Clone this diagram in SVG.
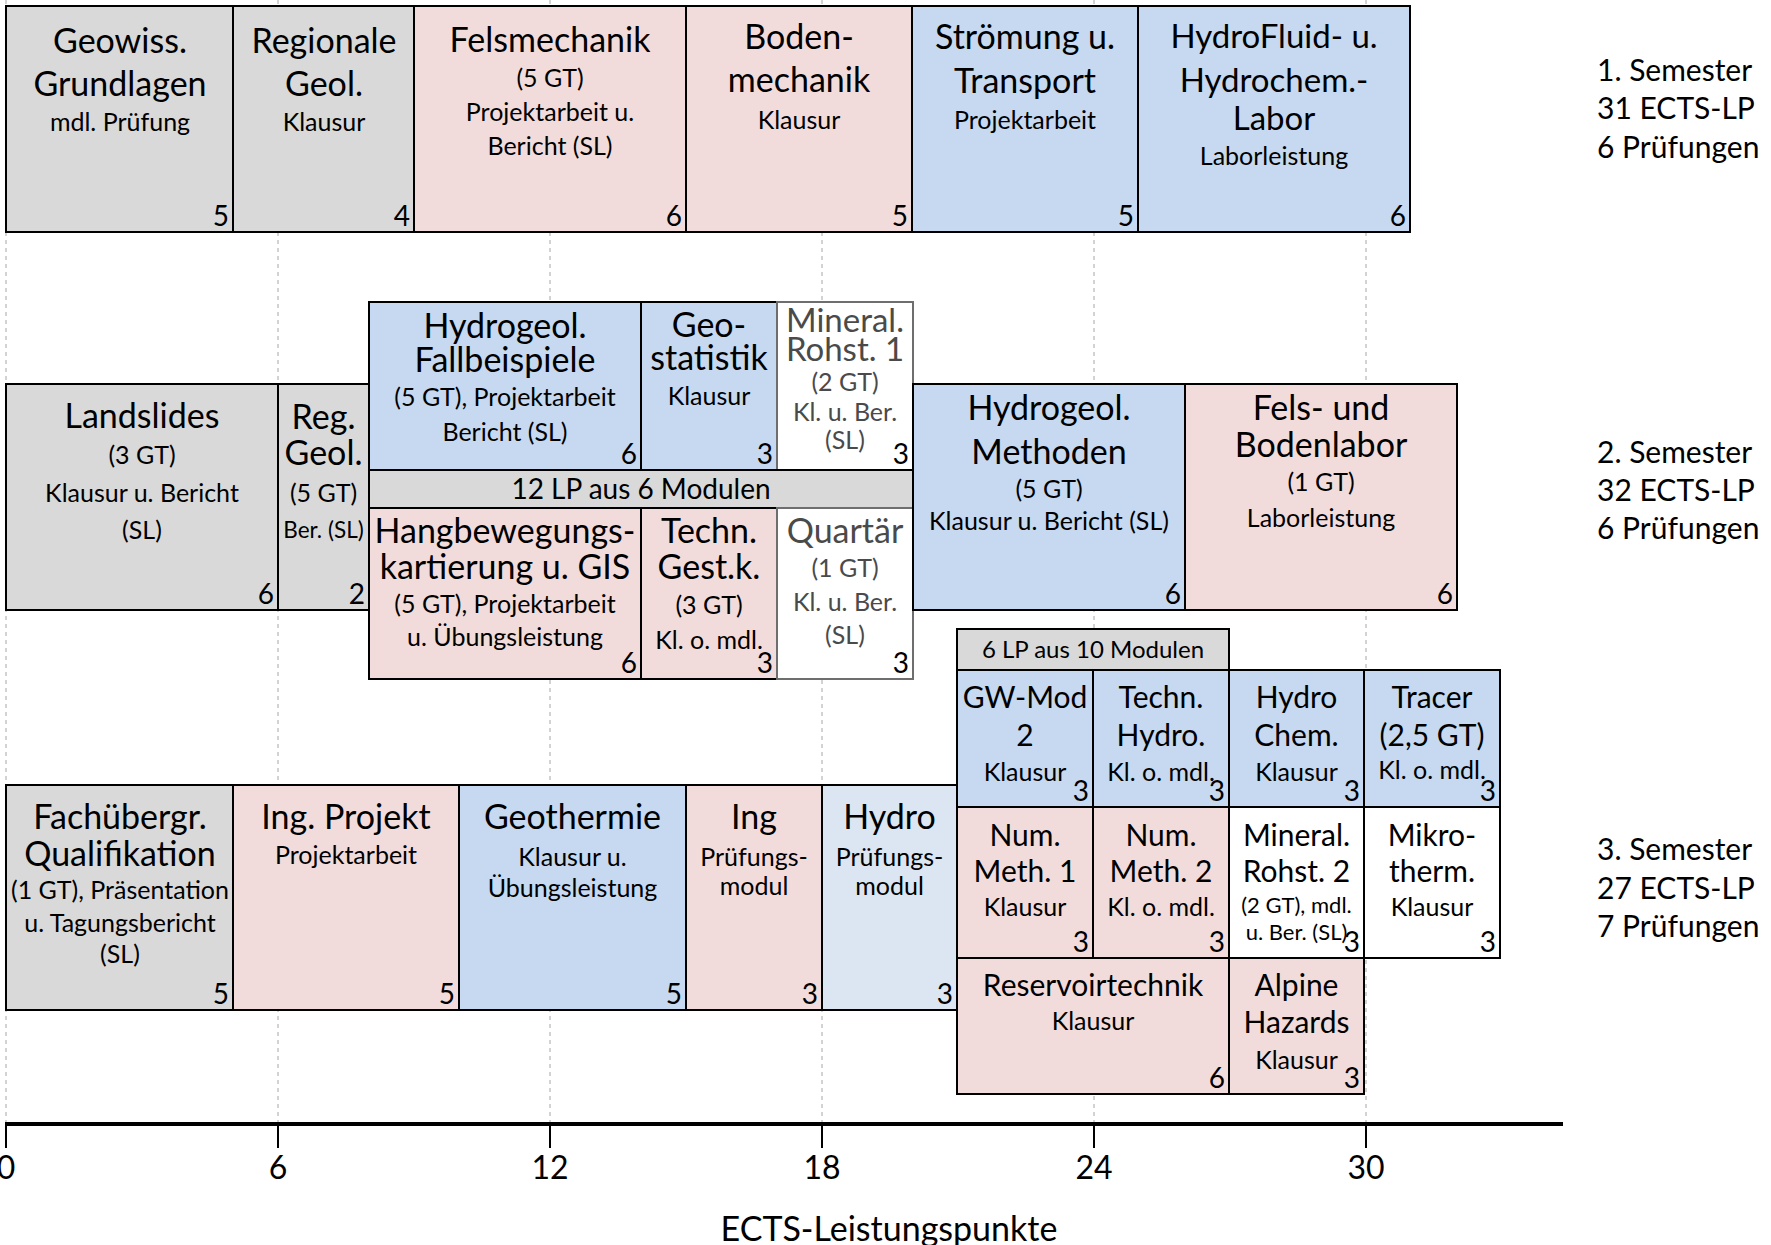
<svg xmlns="http://www.w3.org/2000/svg" width="1771" height="1245" viewBox="0 0 1771 1245">
<style>
text{font-family:Lato,"Liberation Sans",sans-serif;fill:#000}
.t{font-size:34px;text-anchor:middle}
.ts{font-size:30px;text-anchor:middle}
.s{font-size:25px;text-anchor:middle}
.xs{font-size:22px;text-anchor:middle}
.n{font-size:28px;text-anchor:end}
.g{fill:#4a4a4a}
.grey{fill:#d9d9d9;stroke:#000;stroke-width:2}
.pink{fill:#f2dcdb;stroke:#000;stroke-width:2}
.blue{fill:#c6d9f1;stroke:#000;stroke-width:2}
.lblue{fill:#dce6f2;stroke:#000;stroke-width:2}
.white{fill:#fff;stroke:#000;stroke-width:2}
.whiteg{fill:#fff;stroke:#6e6e6e;stroke-width:2}
.grid{stroke:#a6a6a6;stroke-width:1;stroke-dasharray:4 4}
.sem{font-size:30px}
.tick{font-size:32px;text-anchor:middle}
</style>
<rect width="1771" height="1245" fill="#fff"/>
<g id="grid">
<line class="grid" x1="6" y1="0" x2="6" y2="1124"/>
<line class="grid" x1="278" y1="0" x2="278" y2="1124"/>
<line class="grid" x1="550" y1="0" x2="550" y2="1124"/>
<line class="grid" x1="822" y1="0" x2="822" y2="1124"/>
<line class="grid" x1="1094" y1="0" x2="1094" y2="1124"/>
<line class="grid" x1="1366" y1="0" x2="1366" y2="1124"/>
</g>
<!-- Semester 1 -->
<g id="geowiss"><rect class="grey" x="6" y="6" width="227" height="226"/>
<text class="t"><tspan x="120" y="53">Geowiss.</tspan><tspan x="120" y="96">Grundlagen</tspan></text>
<text class="s" x="120" y="130.5">mdl. Prüfung</text><text class="n" x="229" y="226">5</text></g>
<g id="regionale"><rect class="grey" x="233" y="6" width="181" height="226"/>
<text class="t"><tspan x="324" y="53">Regionale</tspan><tspan x="324" y="96">Geol.</tspan></text>
<text class="s" x="324" y="130.5">Klausur</text><text class="n" x="410" y="226">4</text></g>
<g id="felsmechanik"><rect class="pink" x="414" y="6" width="272" height="226"/>
<text class="t" x="550" y="51.5">Felsmechanik</text>
<text class="s"><tspan x="550" y="86.5">(5 GT)</tspan><tspan x="550" y="120.5">Projektarbeit u.</tspan><tspan x="550" y="154.5">Bericht (SL)</tspan></text>
<text class="n" x="682" y="226">6</text></g>
<g id="bodenmechanik"><rect class="pink" x="686" y="6" width="226" height="226"/>
<text class="t"><tspan x="799" y="49">Boden-</tspan><tspan x="799" y="92">mechanik</tspan></text>
<text class="s" x="799" y="128.5">Klausur</text><text class="n" x="908" y="226">5</text></g>
<g id="stroemung"><rect class="blue" x="912" y="6" width="226" height="226"/>
<text class="t"><tspan x="1025" y="49">Strömung u.</tspan><tspan x="1025" y="93">Transport</tspan></text>
<text class="s" x="1025" y="128.5">Projektarbeit</text><text class="n" x="1134" y="226">5</text></g>
<g id="hydrofluid"><rect class="blue" x="1138" y="6" width="272" height="226"/>
<text class="t" style="font-size:33px"><tspan x="1274" y="48">HydroFluid- u.</tspan><tspan x="1274" y="92">Hydrochem.-</tspan><tspan x="1274" y="129.5">Labor</tspan></text>
<text class="s" x="1274" y="164.5">Laborleistung</text><text class="n" x="1406" y="226">6</text></g>
<!-- Semester 2 -->
<g id="landslides"><rect class="grey" x="6" y="384" width="272" height="226"/>
<text class="t" x="142" y="427.7">Landslides</text>
<text class="s"><tspan x="142" y="463.5">(3 GT)</tspan><tspan x="142" y="502">Klausur u. Bericht</tspan><tspan x="142" y="538.5">(SL)</tspan></text>
<text class="n" x="274" y="604">6</text></g>
<g id="reggeol"><rect class="grey" x="278" y="384" width="91" height="226"/>
<text class="t"><tspan x="323.5" y="428.8">Reg.</tspan><tspan x="323.5" y="465">Geol.</tspan></text>
<text class="s" x="323.5" y="502">(5 GT)</text><text class="xs" style="font-size:22.5px" x="323.5" y="538">Ber. (SL)</text>
<text class="n" x="365" y="604">2</text></g>
<g id="fallbeispiele"><rect class="blue" x="369" y="302" width="272" height="168"/>
<text class="t"><tspan x="505" y="338.4">Hydrogeol.</tspan><tspan x="505" y="372">Fallbeispiele</tspan></text>
<text class="s"><tspan x="505" y="406">(5 GT), Projektarbeit</tspan><tspan x="505" y="441">Bericht (SL)</tspan></text>
<text class="n" x="637" y="464">6</text></g>
<g id="geostatistik"><rect class="blue" x="641" y="302" width="136" height="168"/>
<text class="t"><tspan x="709" y="337">Geo-</tspan><tspan x="709" y="370">statistik</tspan></text>
<text class="s" x="709" y="405">Klausur</text><text class="n" x="773" y="464">3</text></g>
<g id="mineral1"><rect class="whiteg" x="777" y="302" width="136" height="168"/>
<text class="ts g" style="font-size:33px"><tspan x="845" y="332">Mineral.</tspan><tspan x="845" y="361">Rohst. 1</tspan></text>
<text class="s g"><tspan x="845" y="390.5">(2 GT)</tspan><tspan x="845" y="420.5">Kl. u. Ber.</tspan><tspan x="845" y="449">(SL)</tspan></text>
<text class="n" x="909" y="464">3</text></g>
<g id="wahl12"><rect class="grey" x="369" y="470" width="544" height="38"/>
<text class="s" style="font-size:28px" x="641" y="499">12 LP aus 6 Modulen</text></g>
<g id="hangbewegung"><rect class="pink" x="369" y="508" width="272" height="171"/>
<text class="t"><tspan x="505" y="543">Hangbewegungs-</tspan><tspan x="505" y="579">kartierung u. GIS</tspan></text>
<text class="s"><tspan x="505" y="612.5">(5 GT), Projektarbeit</tspan><tspan x="505" y="645.5">u. Übungsleistung</tspan></text>
<text class="n" x="637" y="673">6</text></g>
<g id="technGest"><rect class="pink" x="641" y="508" width="136" height="171"/>
<text class="t"><tspan x="709" y="543">Techn.</tspan><tspan x="709" y="579">Gest.k.</tspan></text>
<text class="s"><tspan x="709" y="613.5">(3 GT)</tspan><tspan x="709" y="648.5">Kl. o. mdl.</tspan></text>
<text class="n" x="773" y="673">3</text></g>
<g id="quartaer"><rect class="whiteg" x="777" y="508" width="136" height="171"/>
<text class="t g" x="845" y="543">Quartär</text>
<text class="s g"><tspan x="845" y="576.5">(1 GT)</tspan><tspan x="845" y="610.5">Kl. u. Ber.</tspan><tspan x="845" y="643.5">(SL)</tspan></text>
<text class="n" x="909" y="673">3</text></g>
<g id="methoden"><rect class="blue" x="913" y="384" width="272" height="226"/>
<text class="t"><tspan x="1049" y="420">Hydrogeol.</tspan><tspan x="1049" y="464">Methoden</tspan></text>
<text class="s"><tspan x="1049" y="497.5">(5 GT)</tspan><tspan x="1049" y="529.5">Klausur u. Bericht (SL)</tspan></text>
<text class="n" x="1181" y="604">6</text></g>
<g id="bodenlabor"><rect class="pink" x="1185" y="384" width="272" height="226"/>
<text class="t"><tspan x="1321" y="420">Fels- und</tspan><tspan x="1321" y="457">Bodenlabor</tspan></text>
<text class="s"><tspan x="1321" y="490.5">(1 GT)</tspan><tspan x="1321" y="526.5">Laborleistung</tspan></text>
<text class="n" x="1453" y="604">6</text></g>
<!-- Semester 3 -->
<g id="fachuebergr"><rect class="grey" x="6" y="785" width="227" height="225"/>
<text class="t"><tspan x="120" y="828.6">Fachübergr.</tspan><tspan x="120" y="866">Qualifikation</tspan></text>
<text class="s"><tspan x="120" y="898.5">(1 GT), Präsentation</tspan><tspan x="120" y="931.5">u.  Tagungsbericht</tspan><tspan x="120" y="963">(SL)</tspan></text>
<text class="n" x="229" y="1004">5</text></g>
<g id="ingprojekt"><rect class="pink" x="233" y="785" width="226" height="225"/>
<text class="t" x="346" y="828.6">Ing. Projekt</text>
<text class="s" x="346" y="863.5">Projektarbeit</text><text class="n" x="455" y="1004">5</text></g>
<g id="geothermie"><rect class="blue" x="459" y="785" width="227" height="225"/>
<text class="t" x="572.5" y="828.6">Geothermie</text>
<text class="s"><tspan x="572.5" y="865.5">Klausur u.</tspan><tspan x="572.5" y="896.5">Übungsleistung</tspan></text>
<text class="n" x="682" y="1004">5</text></g>
<g id="ing"><rect class="pink" x="686" y="785" width="136" height="225"/>
<text class="t" x="754" y="828.6">Ing</text>
<text class="s"><tspan x="754" y="865.5">Prüfungs-</tspan><tspan x="754" y="894.5">modul</tspan></text>
<text class="n" x="818" y="1004">3</text></g>
<g id="hydro"><rect class="lblue" x="822" y="785" width="135" height="225"/>
<text class="t" x="889.5" y="828.6">Hydro</text>
<text class="s"><tspan x="889.5" y="865.5">Prüfungs-</tspan><tspan x="889.5" y="894.5">modul</tspan></text>
<text class="n" x="953" y="1004">3</text></g>
<g id="wahl6"><rect class="grey" x="957" y="629" width="272" height="41"/>
<text class="s" style="font-size:24px" x="1093" y="658">6 LP aus 10 Modulen</text></g>
<g id="gwmod"><rect class="blue" x="957" y="670" width="136" height="137"/>
<text class="ts"><tspan x="1025" y="707.5">GW-Mod</tspan><tspan x="1025" y="745.5">2</tspan></text>
<text class="s" x="1025" y="781">Klausur</text><text class="n" x="1089" y="801">3</text></g>
<g id="technhydro"><rect class="blue" x="1093" y="670" width="136" height="137"/>
<text class="ts"><tspan x="1161" y="707.5">Techn.</tspan><tspan x="1161" y="745.5">Hydro.</tspan></text>
<text class="s" x="1161" y="781">Kl. o. mdl.</text><text class="n" x="1225" y="801">3</text></g>
<g id="hydrochem"><rect class="blue" x="1229" y="670" width="135" height="137"/>
<text class="ts"><tspan x="1296.5" y="707.5">Hydro</tspan><tspan x="1296.5" y="745.5">Chem.</tspan></text>
<text class="s" x="1296.5" y="781">Klausur</text><text class="n" x="1360" y="801">3</text></g>
<g id="tracer"><rect class="blue" x="1364" y="670" width="136" height="137"/>
<text class="ts"><tspan x="1432" y="707.5">Tracer</tspan><tspan x="1432" y="745.5">(2,5 GT)</tspan></text>
<text class="s" x="1432" y="779">Kl. o. mdl.</text><text class="n" x="1496" y="801">3</text></g>
<g id="nummeth1"><rect class="pink" x="957" y="807" width="136" height="151"/>
<text class="ts"><tspan x="1025" y="845.5">Num.</tspan><tspan x="1025" y="881.5">Meth. 1</tspan></text>
<text class="s" x="1025" y="915.5">Klausur</text><text class="n" x="1089" y="952">3</text></g>
<g id="nummeth2"><rect class="pink" x="1093" y="807" width="136" height="151"/>
<text class="ts"><tspan x="1161" y="845.5">Num.</tspan><tspan x="1161" y="881.5">Meth. 2</tspan></text>
<text class="s" x="1161" y="915.5">Kl. o. mdl.</text><text class="n" x="1225" y="952">3</text></g>
<g id="mineral2"><rect class="white" x="1229" y="807" width="135" height="151"/>
<text class="ts"><tspan x="1296.5" y="845.5">Mineral.</tspan><tspan x="1296.5" y="881.5">Rohst. 2</tspan></text>
<text class="xs"><tspan x="1296.5" y="913">(2 GT), mdl.</tspan><tspan x="1296.5" y="940">u. Ber. (SL)</tspan></text>
<text class="n" x="1360" y="952">3</text></g>
<g id="mikrotherm"><rect class="white" x="1364" y="807" width="136" height="151"/>
<text class="ts"><tspan x="1432" y="845.5">Mikro-</tspan><tspan x="1432" y="881.5">therm.</tspan></text>
<text class="s" x="1432" y="915.5">Klausur</text><text class="n" x="1496" y="952">3</text></g>
<g id="reservoir"><rect class="pink" x="957" y="958" width="272" height="136"/>
<text class="ts" x="1093" y="995.5">Reservoirtechnik</text>
<text class="s" x="1093" y="1029.5">Klausur</text><text class="n" x="1225" y="1088">6</text></g>
<g id="alpine"><rect class="pink" x="1229" y="958" width="135" height="136"/>
<text class="ts"><tspan x="1296.5" y="995.5">Alpine</tspan><tspan x="1296.5" y="1032.5">Hazards</tspan></text>
<text class="s" x="1296.5" y="1069">Klausur</text><text class="n" x="1360" y="1088">3</text></g>
<!-- semester labels -->
<g id="sem1"><text class="sem"><tspan x="1597" y="80.5">1. Semester</tspan><tspan x="1597" y="119">31 ECTS-LP</tspan><tspan x="1597" y="157.5">6 Prüfungen</tspan></text></g>
<g id="sem2"><text class="sem"><tspan x="1597" y="462.5">2. Semester</tspan><tspan x="1597" y="500.5">32 ECTS-LP</tspan><tspan x="1597" y="539">6 Prüfungen</tspan></text></g>
<g id="sem3"><text class="sem"><tspan x="1597" y="859.5">3. Semester</tspan><tspan x="1597" y="898.5">27 ECTS-LP</tspan><tspan x="1597" y="936.5">7 Prüfungen</tspan></text></g>
<!-- axis -->
<g id="axis">
<line x1="5" y1="1124" x2="1563" y2="1124" stroke="#000" stroke-width="4"/>
<g stroke="#000" stroke-width="2">
<line x1="6" y1="1124" x2="6" y2="1148"/><line x1="278" y1="1124" x2="278" y2="1148"/><line x1="550" y1="1124" x2="550" y2="1148"/><line x1="822" y1="1124" x2="822" y2="1148"/><line x1="1094" y1="1124" x2="1094" y2="1148"/><line x1="1366" y1="1124" x2="1366" y2="1148"/>
</g>
<text class="tick" x="6" y="1179">0</text><text class="tick" x="278" y="1179">6</text><text class="tick" x="550" y="1179">12</text><text class="tick" x="822" y="1179">18</text><text class="tick" x="1094" y="1179">24</text><text class="tick" x="1366" y="1179">30</text>
<text class="tick" style="font-size:34px" x="889" y="1241">ECTS-Leistungspunkte</text>
</g>
</svg>
